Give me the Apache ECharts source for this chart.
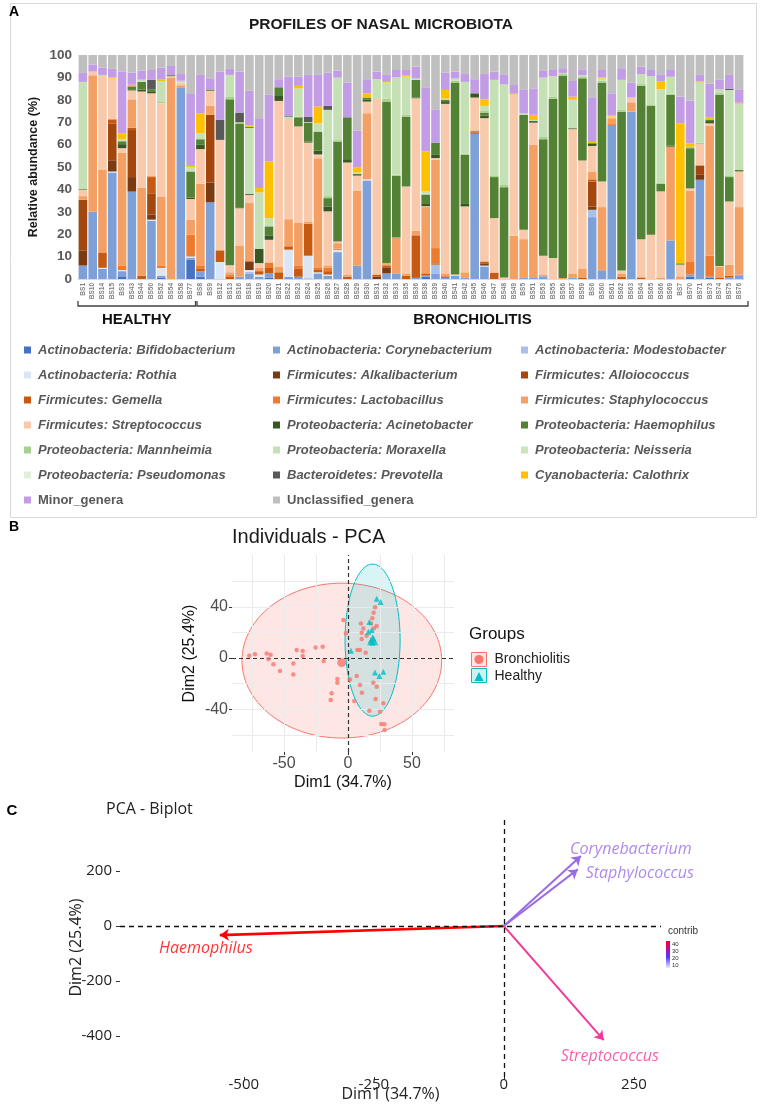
<!DOCTYPE html>
<html><head><meta charset="utf-8">
<script src="https://cdn.jsdelivr.net/npm/echarts@6/dist/echarts.min.js"></script>
<style>html,body{margin:0;padding:0;background:#fff}#c{width:762px;height:1105px}</style>
</head><body><div id="c"></div>
<script>
// ---------- Panel A data ----------
const samples = ['BS1','BS10','BS14','BS15','BS3','BS43','BS44','BS50','BS52','BS54','BS58','BS77',
'BS8','BS9','BS12','BS13','BS16','BS18','BS19','BS20','BS21','BS22','BS23','BS24','BS25','BS26','BS27','BS28','BS29','BS30','BS31','BS32',
'BS33','BS35','BS36','BS38','BS39','BS40','BS41','BS42','BS45','BS46','BS47','BS48','BS49','BS5','BS51','BS53','BS55','BS56','BS57','BS59',
'BS6','BS60','BS61','BS62','BS63','BS64','BS65','BS66','BS69','BS7','BS70','BS71','BS73','BS74','BS75','BS76'];
const healthyCount = 12;
const groupLabels = ['HEALTHY','BRONCHIOLITIS'];

const bifidobacterium = [0,0,0,0,1.2,0,0,0,0.5,0,0,8.6, 1,0,0,0,0,0,0,0.5,0,0, 0,0,0,0,0,0,0,0,0,0, 0,0,0,1,0,0,0,0,0,0, 0,0,0,0,0,0,0,0,0,0, 0,0,0,0,0,0,0,0,0,0, 1,0,0.5,0,0,0];
const corynebacterium = [6,30,4.5,47.5,2.3,39,0,26,1,0,85.6,0.9, 2.4,34.2,0,0,1,2.5,1,2,0,1, 1,0.3,2.5,1.5,12,0,5.9,44,0,2.5, 2.5,0,0.5,0.5,2.5,0.5,1.5,0.5,64.8,5.6, 0,0,0,0.5,0.5,1.2,0,0,0.5,0, 27.6,3.9,68.8,0,74.7,0,0,0,17.2,0, 1,44.3,0.5,0,0.8,1.5];
const modestobacter = [0,0,0,0,0,0,0,0,0,0,0,0, 0,0,0,0,0,0.7,0,0,0,0, 0,0,0,0,0,0,0,0,0,0, 0,0,0,0,3.9,0,0,0,0,0, 0,0,0,0,0,0,0,0,0,0, 3.3,0,0,0,0,0,0,0,0,0, 0,0,0,0,0,0];
const rothia = [0,0,0.5,0.5,0.5,0,0,0.5,3.4,0,0,0.6, 0,0,7.6,0,0,0.8,1,0,0,12.1, 0,10.1,0.5,0.5,1,0,0,0.5,0,0, 0,0,0,0,0,0,0,0,0,0.4, 0,0,0,0,0,0,0,0,0,0, 0,0,0,0,0,0,0,0,0,0, 0,0,0,0,0,0];
const alkalibacterium = [6.8,0,0,5,0,6.5,0,2.2,0,0,0,0, 0,8.9,0,0,0,3.9,0,0,0,0, 0,0,0,0,0,0,0,0,1,2.7, 0,0,0,0,0,0,0,0,0,1, 0,0,0,0,0,0,0,0,0,0, 1.5,0,0,0,0,0,0,0,0,0, 0,2.2,0,0,0,0];
const alloiococcus = [22.6,0,0,16.5,0,21,0,9.3,0,0,0,0, 0,30.2,0,0,0,0,0,0,0,0, 0,0,0,0,0,0,0,0,0,0, 0,0,0,0,0,0,0,0,0,0, 0,0,0,0,0,0,0,0,0,0, 11.1,0,0,0,0,0,0,0,0,0, 0,4.2,0,0,0,0];
const gemella = [0,0,6.6,1.8,0,1,1.5,7.5,0,0,0,0.5, 1.1,0,5.2,1,0,0,1.5,2.4,3,1.5, 3.5,14.3,1,1.5,0,1,0,0,1,0.8, 0,1.5,19,1,0.6,0.7,0,0,0.7,0.7, 2.7,0,0,0,0,0,0,0,0,0.7, 1,0,0,1,0,0.6,0,0,0,0, 0,0,0,0.7,0.7,0];
const lactobacillus = [0,0,0,0,2.1,0,0,0,1.2,0,0,9.2, 1.6,0,0,1,0,0,0,2.5,0,0, 1.6,0,0.9,1.5,0.5,0,0,0,0,0.5, 0,0,0,0,6.8,0,0,0,0.8,0, 0,0,0,0,0,0,0,0,0,0, 0,0,0.7,0,0,0,0,0,0,0, 5.6,0,9.4,0,0,0.5];
const staphylococcus = [1.6,61,37.1,0,50.4,12.7,39.1,0.5,30.5,90,0.9,6.6, 36.4,4,0,1,14,26,1.5,0,2.6,12.1, 18.9,0.8,49,1.1,2.5,1,33.6,29.5,0,0.6, 15.8,1,2,29.6,39.4,1.3,0,2.5,0,0.3, 0.3,0,19.3,17.3,59.4,0.8,0,0.5,2,3.8, 3.5,28.2,2.3,1.5,4.2,0.6,0,0.7,41.9,1.2, 31.9,0.3,58,4.9,4.9,30.1];
const streptococcus = [2.8,1.6,41.9,18.2,1.9,4,43.1,36.9,41.9,0.5,1.2,9.3, 15.5,6.7,49.3,3.1,16.6,3.6,2.1,10.1,73.9,44.3, 43.1,35.4,1.7,24.1,0.8,50,6.6,5.2,78.4,0, 0.2,38.8,59.2,0.4,0.8,75.7,0.5,29.4,14.7,63.8, 24.2,0.7,62.9,4.2,9.9,8.4,9.4,0,64.4,48.4, 11.4,11.4,0.7,1.3,2.2,16.6,19.8,38.4,0,5.2, 1,9.3,1.1,0.2,28.2,15.9];
const acinetobacter = [0.3,0,0,0,1.8,0.5,0.8,0.6,0,0,0,0.6, 1.9,0,0,0,0.4,0.4,6.3,2,2.2,0, 0,0.4,1.8,2.2,0.2,1.5,0,0.8,0,0, 0,0,0.3,1,1.4,0.8,0,1.1,1.9,1.2, 0,0,0,0,0.7,0,0,0,0.4,0, 1.2,0,0,0,0,0,0,0,0.4,0, 0.5,0,1,0,0,0];
const haemophilus = [0,0,0,0,1.3,1.3,3.5,1.2,0,0.5,0,11.7, 2.5,0.6,0,74.1,37.2,0,0,4,3.9,0, 4.1,8.5,8.4,3.7,44.4,18.7,0.9,1,0,71.9, 27.6,31.2,7.9,4.1,5.5,1,85.7,21.9,0,1.3, 18.3,40.3,0,51.3,0,52,71,90.1,0,36.7, 0,44.2,0,70.9,0,68.4,57.5,3.4,22.7,0.6, 17.4,0,0.7,76.4,10.9,0.7];
const mannheimia = [0,0,0,0,0,0,0,0,0.5,0,0,0, 0,0,0,1.3,0.8,0,0,0,0,0, 0.3,0.3,0,0.9,0.6,0,0,0,0,1.5, 0.5,1,0,0.4,0,0,0.8,0.6,0,0.7, 0.5,1,0.3,0,0,1,1.1,0.9,0,0.6, 0,0.8,0,0.8,0,0.8,0.7,0.5,0.6,0, 0.6,0.5,0,0.8,0.5,0];
const moraxella = [47.9,0,0.5,0,0.9,0,1,0,9.4,0,0.8,1.8, 2.7,0,0,9.6,0,29.6,25.2,3.7,0,1.5, 12.6,0,3.7,38.5,27.9,0,0.5,0,8.8,7.2, 43.4,16.8,0.6,1.1,0,0.5,1,32,0,2.3, 42.9,44.9,0,0.7,0.5,26.5,9.1,0.5,12.7,0.8, 0,1,0,13.4,0,4.5,12.6,41.7,7.5,0, 0,26.9,0,1.7,38.4,29.5];
const neisseria = [0,0,0,0,0,0,0,0,0,0,0,0, 0,0,0,0,0,0,0,0,0,0, 0,0,0,0,0,0,0,0,0,0, 0,0,0,0,0,0,0,0,0,0, 0,0,0,0,0,0,0,0,0,0, 0,0,0,0,0,0,0,0,0,0, 0,0,0,0,0,0];
const pseudomonas = [0,0,0,0,0,0,0,0,0,0,0,0, 0,0,0,0,0,0,0,0,0,0, 0,0,0,0,0,0,0,0,0,0, 0,0,0,0,0,0,0,0,0,0, 0,0,0,0,0,0,0,0,0,0, 0,0,0,0,0,0,0,0,0,0, 0,0,0,0,0,0];
const prevotella = [0,0,0,0,0,0,0,4.2,0,0,0,0, 0,0,8.9,0,4.3,0.4,0,0,0,0.5, 0,2.4,0,1.8,0,0,0,0,0,0, 0,0,0,0,0,0,0,0,0,0, 0,0,0,0,0,0,0,0,0,0, 0,0,0,0,0,0,0,0,0,0, 0,0,0,0,0.6,0];
const calothrix = [0,0,0,0.5,2.7,0.7,0,0,0.6,0,0,0.7, 8.9,0,0,0,0,0.6,2,25.3,0,0, 1.1,0,7.5,0,0,0,2.4,1.9,0,0.3, 0,0.7,0,17.8,0,3.9,0,0,0,2.9, 0,0,0.5,0,2.3,0,0,0,1.4,0, 0.6,0.5,0.5,0,0,0,0,3.4,0,62.5, 1.6,0.5,0.8,0,0,0.5];
const minorGenera = [4,3.2,3.3,3.8,27.6,5.4,4.1,4.4,5.4,4.1,3,32.1, 17.1,5,21.6,2.7,18.3,15.5,31.2,29.7,3.6,17.3, 4.1,18.6,14.1,14.8,3.1,15.5,16.4,6.3,3.4,3.1, 3.3,2.3,5.3,28.7,14.6,7.7,3.1,3.5,6.3,11.3, 3.7,4.2,3.6,10.7,11.8,3,2.7,2.1,7,2.6, 19.9,3.3,9.9,5.2,6.6,3.3,2.7,3,3,11.9, 19,2.9,15.2,4.2,6.1,6];
const unclassifiedGenera = [8,4.2,5.6,6.2,7.3,7.9,6.9,6.7,5.6,4.9,8.5,17.4, 8.9,10.4,7.4,6.2,7.4,16,28.2,17.8,10.8,9.7, 9.7,8.9,8.9,7.9,7,12.3,33.7,10.8,7.4,8.9, 6.7,6.7,5.2,14.4,24.5,7.9,7.4,8.5,10.8,8.5, 7.4,8.9,13.4,15.3,14.9,7.1,6.7,5.9,11.6,6.4, 18.9,6.7,17.1,5.9,12.3,5.2,6.7,8.9,6.7,18.6, 20.4,8.9,12.8,11.1,8.9,15.3];

const generaNames = ['Actinobacteria: Bifidobacterium','Actinobacteria: Corynebacterium','Actinobacteria: Modestobacter',
'Actinobacteria: Rothia','Firmicutes: Alkalibacterium','Firmicutes: Alloiococcus','Firmicutes: Gemella','Firmicutes: Lactobacillus',
'Firmicutes: Staphylococcus','Firmicutes: Streptococcus','Proteobacteria: Acinetobacter','Proteobacteria: Haemophilus',
'Proteobacteria: Mannheimia','Proteobacteria: Moraxella','Proteobacteria: Neisseria','Proteobacteria: Pseudomonas',
'Bacteroidetes: Prevotella','Cyanobacteria: Calothrix','Minor_genera','Unclassified_genera'];
const generaValues = [bifidobacterium,corynebacterium,modestobacter,rothia,alkalibacterium,alloiococcus,gemella,lactobacillus,
staphylococcus,streptococcus,acinetobacter,haemophilus,mannheimia,moraxella,neisseria,pseudomonas,prevotella,calothrix,minorGenera,unclassifiedGenera];

// ---------- Panel B data ----------
const bronchDim1 = [-77.1,-72.7,-63.5,-60.4,-62.2,-58.3,-53.1,-42.7,-42.7,-40.1,-35.4,-35.4,-25.3,-19.8,-19,-8.3,-8.3,-12.8,-13.5,1.6,4.9,6.8,7.3,9.4,9.4,10.9,13.8,16.7,19.8,22.4,21.6,25,27.6,26,28.4,28.6,10.7,10.7,14.6,20.3,22.4,-1.6,-3.6,21.1,20,19,18,10.1,12];
const bronchDim2 = [1.8,2.9,3.6,2.6,-0.8,-4.9,-10.2,-4.2,-12.8,6.2,5.5,1.6,8.3,8.9,-2.3,-16.4,-19.3,-27.6,-32.8,-16.7,-33.6,-14.1,6.2,6.2,-21.1,-27.1,4.2,-41.1,-19.3,-22.4,-32,-41.9,-35.4,-51.6,-51.8,-56.3,19.8,14.8,17.4,23.2,25,19.3,29.7,39.6,35.4,31,27,27,23];
const healthyDim1 = [22.4,25.5,16.7,18.5,15.9,18,20,19,2.3,21.1,24.5,27.6];
const healthyDim2 = [46.4,43.8,28.2,21.9,20.6,14,15,12,5.7,-11.2,-14,-10.7];
const groupNames = ['Bronchiolitis','Healthy'];
const groupMeanDim1 = [-4.9,19.3];
const groupMeanDim2 = [-3.6,14.3];
const bronchEllipse = [-4.8,-2,78,60.5];   // centre x, centre y, radius x, radius y
const healthyEllipse = [19.2,14,21.5,59.4];
const pcaTicksX = [-50,0,50];
const pcaTicksY = [-40,0,40];
const pcaGridX = [-75,-50,-25,25,50,75];
const pcaGridY = [-60,-40,-20,20,40,60];

// ---------- Panel C data ----------
const varNames = ['Haemophilus','Corynebacterium','Staphylococcus','Streptococcus'];
const varDim1 = [-546,148,142,192];
const varDim2 = [-33,255,206,-415];
const contribTicks = ['40','30','20','10'];
const biplotTicksX = [-500,-250,0,250];
const biplotTicksY = [-400,-200,0,200];

// ---------- styles ----------
const SANS = '"Liberation Sans",Arial,sans-serif';
const OPEN = '"Open Sans","Noto Sans",sans-serif';
const generaColors = ['#4472C4','#7EA0D9','#A9C1E8','#DAE5F5','#7A3A12','#A3470F','#C65A12','#EE7A2E','#F4A064','#F8C9AA',
'#385723','#548235','#A9D18E','#C5E0B4','#CDE5BD','#E2F0D9','#595959','#FFC000','#C29CE5','#BFBFBF'];
const arrowColors = ['#FF0000','#9B6BE6','#9B6BE6','#F2399A'];
const arrowLabelOffsets = [[-14,13],[50,-7],[62,4],[6,16]];
const RED = '#F8766D', CYAN = '#00BFC4';

const chart = echarts.init(document.getElementById('c'));

const barSeries = generaNames.map((n,i)=>({
  type:'bar', name:n, stack:'abund', xAxisIndex:0, yAxisIndex:0, data:generaValues[i],
  barCategoryGap:'12%', itemStyle:{color:generaColors[i]}, emphasis:{disabled:true}
}));

function legendCol(idx, left){
  return {left:left, top:342, orient:'vertical', padding:0, itemWidth:7, itemHeight:7, itemGap:9, icon:'rect',
    textStyle:{fontFamily:SANS, fontSize:13, fontWeight:'bold', fontStyle:'italic', color:'#595959', lineHeight:16, padding:[0,0,0,2]},
    data: idx.map(i=>(i>=18?{name:generaNames[i], textStyle:{fontStyle:'normal'}}:{name:generaNames[i]}))};
}

function ellipseRender(fill, stroke){
  return function(params, api){
    const cx=api.value(0), cy=api.value(1), rx=api.value(2), ry=api.value(3);
    const pts=[];
    for(let k=0;k<=120;k++){const t=k/120*Math.PI*2; pts.push(api.coord([cx+rx*Math.cos(t), cy+ry*Math.sin(t)]));}
    return {type:'polygon', shape:{points:pts}, style:{fill:fill, stroke:stroke, lineWidth:1}};
  };
}

const option = {
  animation:false,
  backgroundColor:'#fff',
  title:[
    {text:'PROFILES OF NASAL MICROBIOTA', left:'center', top:17, padding:0, textStyle:{fontFamily:SANS, fontWeight:'bold', fontSize:15.5, color:'#1a1a1a'}},
    {text:'Individuals - PCA', left:232, top:527, padding:0, textStyle:{fontFamily:SANS, fontWeight:'normal', fontSize:20, color:'#1a1a1a'}},
    {text:'PCA - Biplot', left:106, top:801, padding:0, textStyle:{fontFamily:OPEN, fontWeight:'normal', fontSize:16, color:'#222'}}
  ],
  legend:[
    legendCol([0,3,6,9,12,15,18], 24),
    legendCol([1,4,7,10,13,16,19], 273),
    legendCol([2,5,8,11,14,17], 521),
    {left:474.5, top:652.5, orient:'vertical', padding:0, itemWidth:9, itemHeight:9, itemGap:3, z:10,
      textStyle:{fontFamily:SANS, fontSize:14, color:'#222', lineHeight:14, padding:[0,0,0,6]},
      data:[{name:'Bronchiolitis', icon:'circle', itemStyle:{color:RED}}, {name:'Healthy', icon:'triangle', itemStyle:{color:CYAN}}]}
  ],
  grid:[
    {left:78, top:55, width:666, height:224, outerBoundsMode:'none'},
    {left:232, top:555, width:222, height:197, outerBoundsMode:'none'},
    {left:120, top:818, width:541, height:259, outerBoundsMode:'none'}
  ],
  xAxis:[
    {gridIndex:0, type:'category', data:samples, axisTick:{show:false}, axisLine:{lineStyle:{color:'#d9d9d9'}},
      axisLabel:{interval:0, rotate:90, fontSize:6.5, fontFamily:SANS, fontWeight:'bold', color:'#808080', margin:4}},
    {gridIndex:1, type:'value', min:-90.6, max:82.8, splitLine:{show:false}, axisLine:{show:false, onZero:false},
      axisTick:{show:true, length:3, lineStyle:{color:'#333'}, customValues:pcaTicksX},
      axisLabel:{customValues:pcaTicksX, fontSize:16, color:'#4d4d4d', fontFamily:SANS, margin:4},
      name:'Dim1 (34.7%)', nameLocation:'middle', nameGap:23, nameMoveOverlap:false, nameTextStyle:{fontSize:16, color:'#111', fontFamily:SANS}},
    {gridIndex:2, type:'value', min:-738, max:302, splitLine:{show:false}, axisLine:{show:false, onZero:false},
      axisTick:{show:true, length:3, lineStyle:{color:'#333'}, customValues:biplotTicksX},
      axisLabel:{customValues:biplotTicksX, fontSize:15, color:'#222', fontFamily:OPEN, margin:0},
      name:'Dim1 (34.7%)', nameLocation:'middle', nameGap:9, nameMoveOverlap:false, nameTextStyle:{fontSize:16, color:'#222', fontFamily:OPEN}}
  ],
  yAxis:[
    {gridIndex:0, type:'value', min:0, max:100, interval:10, axisLine:{show:false}, axisTick:{show:false}, splitLine:{show:false},
      axisLabel:{fontFamily:SANS, fontSize:13.5, fontWeight:'bold', color:'#595959', margin:6},
      name:'Relative abundance (%)', nameLocation:'middle', nameGap:38, nameMoveOverlap:false,
      nameTextStyle:{fontFamily:SANS, fontSize:12.5, fontWeight:'bold', color:'#1a1a1a'}},
    {gridIndex:1, type:'value', min:-73.4, max:80.5, splitLine:{show:false}, axisLine:{show:false, onZero:false},
      axisTick:{show:true, length:3, lineStyle:{color:'#333'}, customValues:pcaTicksY},
      axisLabel:{customValues:pcaTicksY, fontSize:16, color:'#4d4d4d', fontFamily:SANS, margin:4},
      name:'Dim2 (25.4%)', nameLocation:'middle', nameGap:34, nameMoveOverlap:false, nameTextStyle:{fontSize:16, color:'#111', fontFamily:SANS}},
    {gridIndex:2, type:'value', min:-549, max:393, splitLine:{show:false}, axisLine:{show:false, onZero:false},
      axisTick:{show:true, length:4, lineStyle:{color:'#333'}, customValues:biplotTicksY},
      axisLabel:{customValues:biplotTicksY, fontSize:15, color:'#222', fontFamily:OPEN, margin:8},
      name:'Dim2 (25.4%)', nameLocation:'middle', nameGap:36, nameMoveOverlap:false, nameTextStyle:{fontSize:16, color:'#222', fontFamily:OPEN}}
  ],
  series: barSeries.concat([
    // PCA grid lines
    {type:'scatter', xAxisIndex:1, yAxisIndex:1, data:[], z:1, silent:true,
      markLine:{silent:true, symbol:'none', label:{show:false}, animation:false,
        lineStyle:{color:'#EBEBEB', type:'solid', width:1},
        data: pcaGridX.map(v=>({xAxis:v})).concat(pcaGridY.map(v=>({yAxis:v})))}},
    {type:'custom', name:'Bronchiolitis', xAxisIndex:1, yAxisIndex:1, z:2, silent:true, encode:{x:0,y:1},
      renderItem: ellipseRender('rgba(248,118,109,0.18)', RED), data:[bronchEllipse]},
    {type:'custom', name:'Healthy', xAxisIndex:1, yAxisIndex:1, z:2, silent:true, encode:{x:0,y:1},
      renderItem: ellipseRender('rgba(0,191,196,0.16)', CYAN), data:[healthyEllipse]},
    {type:'scatter', xAxisIndex:1, yAxisIndex:1, data:[], z:5, silent:true,
      markLine:{silent:true, symbol:'none', label:{show:false}, animation:false,
        lineStyle:{color:'#333', type:[4,3], width:1.2}, data:[{xAxis:0},{yAxis:0}]}},
    {type:'scatter', name:'Bronchiolitis', xAxisIndex:1, yAxisIndex:1, z:6, symbol:'circle', symbolSize:4.5,
      itemStyle:{color:RED}, data: bronchDim1.map((x,i)=>[x, bronchDim2[i]])},
    {type:'scatter', name:'Healthy', xAxisIndex:1, yAxisIndex:1, z:6, symbol:'triangle', symbolSize:6,
      itemStyle:{color:CYAN}, data: healthyDim1.map((x,i)=>[x, healthyDim2[i]])},
    {type:'scatter', name:'Bronchiolitis', xAxisIndex:1, yAxisIndex:1, z:7, symbol:'circle', symbolSize:9,
      itemStyle:{color:RED}, data:[[groupMeanDim1[0], groupMeanDim2[0]]]},
    {type:'scatter', name:'Healthy', xAxisIndex:1, yAxisIndex:1, z:7, symbol:'triangle', symbolSize:11,
      itemStyle:{color:CYAN}, data:[[groupMeanDim1[1], groupMeanDim2[1]]]},
    // Biplot
    {type:'scatter', xAxisIndex:2, yAxisIndex:2, data:[], z:1, silent:true,
      markLine:{silent:true, symbol:'none', label:{show:false}, animation:false,
        lineStyle:{color:'#111', type:[5,4], width:1.3}, data:[{xAxis:0},{yAxis:0}]}},
    {type:'lines', coordinateSystem:'cartesian2d', xAxisIndex:2, yAxisIndex:2, z:3, silent:true,
      symbol:['none','arrow'], symbolSize:9, lineStyle:{width:2, opacity:1},
      data: varNames.map((n,i)=>({name:n, coords:[[0,0],[varDim1[i],varDim2[i]]], lineStyle:{color:arrowColors[i], width: i===0?2.6:2}}))},
    {type:'scatter', xAxisIndex:2, yAxisIndex:2, z:4, silent:true, symbol:'circle', symbolSize:1,
      itemStyle:{color:'rgba(0,0,0,0)'},
      label:{show:true, position:'inside', formatter:p=>p.name, fontFamily:OPEN, fontStyle:'italic', fontSize:16},
      data: varNames.map((n,i)=>({name:n, value:[varDim1[i],varDim2[i]], label:{offset:arrowLabelOffsets[i], color:arrowColors[i]}}))}
  ])
};
chart.setOption(option);

// annotations that depend on the category scale
const px = n => chart.convertToPixel({xAxisIndex:0}, n);
const bw = px(samples[1]) - px(samples[0]);
const hx0 = px(samples[0]) - bw/2, hx1 = px(samples[healthyCount-1]) + bw/2;
const bx0 = px(samples[healthyCount]) - bw/2 + 1.5, bx1 = px(samples[samples.length-1]) + bw/2 + 4;
const by = 306;
const bracketStyle = {fill:'none', stroke:'#404040', lineWidth:1.3};
const lab = (t,x,y,font,fill,align)=>({type:'text', style:{text:t, x:x, y:y, font:font, fill:fill, align:align||'center', verticalAlign:'middle'}});

chart.setOption({graphic:[
  {type:'rect', z:-1, shape:{x:10.5, y:3.5, width:746, height:514}, style:{fill:'none', stroke:'#d9d9d9', lineWidth:1}},
  lab('A', 14, 12, 'bold 14px '+SANS, '#000'),
  lab('B', 14, 527, 'bold 14px '+SANS, '#000'),
  lab('C', 12, 811, 'bold 15px '+SANS, '#000'),
  {type:'polyline', shape:{points:[[hx0,by-5],[hx0,by],[hx1,by],[hx1,by-5]]}, style:bracketStyle},
  {type:'polyline', shape:{points:[[bx0,by-5],[bx0,by],[bx1,by],[bx1,by-5]]}, style:bracketStyle},
  lab(groupLabels[0], (hx0+hx1)/2, 320, 'bold 15px '+SANS, '#111'),
  lab(groupLabels[1], (bx0+bx1)/2, 320, 'bold 15px '+SANS, '#111'),
  // Groups legend
  lab('Groups', 469, 634, '17px '+SANS, '#111', 'left'),
  {type:'rect', z:5, shape:{x:471.5, y:652.5, width:15, height:14}, style:{fill:'rgba(248,118,109,0.2)', stroke:RED, lineWidth:1}},
  {type:'rect', z:5, shape:{x:471.5, y:668.5, width:15, height:14}, style:{fill:'rgba(0,191,196,0.2)', stroke:CYAN, lineWidth:1}},
  // contrib legend
  lab('contrib', 668, 931, '10px '+SANS, '#333', 'left'),
  {type:'rect', shape:{x:666, y:941, width:4, height:27},
    style:{fill:new echarts.graphic.LinearGradient(0,0,0,1,[{offset:0,color:'#FF0020'},{offset:0.35,color:'#B010B0'},{offset:0.6,color:'#4A3BFF'},{offset:1,color:'#ECE8FF'}])}},
  lab(contribTicks[0], 672, 944, '6px '+SANS, '#333', 'left'),
  lab(contribTicks[1], 672, 951, '6px '+SANS, '#333', 'left'),
  lab(contribTicks[2], 672, 958, '6px '+SANS, '#333', 'left'),
  lab(contribTicks[3], 672, 965, '6px '+SANS, '#333', 'left')
]});
</script>
</body></html>
